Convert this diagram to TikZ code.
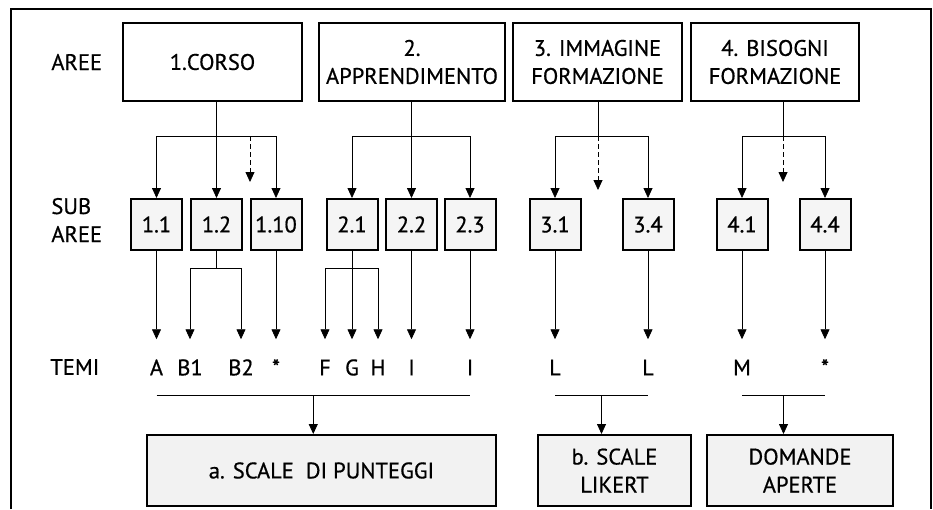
\documentclass[tikz,border=0pt]{standalone}
\usepackage{fontspec}
\setmainfont[FakeBold=0.6]{PT Sans}
\usetikzlibrary{arrows.meta,calc}
\begin{document}
\begin{tikzpicture}[>={Triangle[width=9pt,length=10pt]},x=1pt,y=-1pt,line width=0.8pt,
	every node/.style={font=\fontsize{22.5}{28}\selectfont},
	area/.style={draw,line width=2pt,minimum width=#1,minimum height=78pt,align=center,inner sep=0pt},
	sub/.style={draw,line width=2pt,fill=black!4,minimum width=51pt,minimum height=51pt,inner sep=0pt},
	tema/.style={inner xsep=0pt,inner ysep=20pt,text height=15.7pt,text depth=0pt},
	esito/.style={draw,line width=2pt,fill=black!5,minimum width=#1,minimum height=71pt,align=center,inner sep=0pt},
	lab/.style={anchor=west,align=left,inner sep=0pt},
	tratt/.style={dash pattern=on 5pt off 3pt}]
	\useasboundingbox (0,0) rectangle (933,509);
	% cornice
	\draw[line width=1.2pt] (11,509) -- (11,9) -- (931,9) -- (931,509);
	\node[lab] (lAree) at (51,62) {AREE};
	\node[lab] (lSub) at (51,220) {SUB\\AREE};
	\node[lab] (lTemi) at (50,367) {TEMI};
	% aree
	\node[area=179pt] (c1) at (212.5,62) {1.CORSO};
	\node[area=186pt] (c2) at (412,62) {2.\\APPRENDIMENTO};
	\node[area=169pt] (c3) at (597.5,62) {3. IMMAGINE\\FORMAZIONE};
	\node[area=168pt] (c4) at (775,62) {4. BISOGNI\\FORMAZIONE};
	% sub aree
	\node[sub] (s11) at (156.5,224.5) {1.1};
	\node[sub] (s12) at (216.5,224.5) {1.2};
	\node[sub] (s110) at (276,224.5) {1.10};
	\node[sub] (s21) at (352,224.5) {2.1};
	\node[sub] (s22) at (411.5,224.5) {2.2};
	\node[sub] (s23) at (470,224.5) {2.3};
	\node[sub] (s31) at (555,224.5) {3.1};
	\node[sub] (s34) at (648,224.5) {3.4};
	\node[sub] (s41) at (742,224.5) {4.1};
	\node[sub] (s44) at (825,224.5) {4.4};
	% temi
	\node[tema] (tA) at (156.5,367.5) {A};
	\node[tema] (tB1) at (190,367.5) {B1};
	\node[tema] (tB2) at (241,367.5) {B2};
	\node[tema] (tS1) at (276,367.5) {*};
	\node[tema] (tF) at (325,367.5) {F};
	\node[tema] (tG) at (352,367.5) {G};
	\node[tema] (tH) at (378,367.5) {H};
	\node[tema] (tI1) at (411.5,367.5) {I};
	\node[tema] (tI2) at (470,367.5) {I};
	\node[tema] (tL1) at (555,367.5) {L};
	\node[tema] (tL2) at (648,367.5) {L};
	\node[tema] (tM) at (742,367.5) {M};
	\node[tema] (tS2) at (825,367.5) {*};
	% esiti
	\node[esito=349pt] (ba) at (321.5,470.5) {a. SCALE~ DI PUNTEGGI};
	\node[esito=153pt] (bb) at (614.5,470.5) {b. SCALE\\LIKERT};
	\node[esito=186pt] (bc) at (800,470.5) {DOMANDE\\APERTE};
	% livelli delle forcelle
	\coordinate (liv) at (0,136);
	\coordinate (liv2) at (0,268);
	\coordinate (p1) at (250,182);
	\coordinate (p3) at (598,190);
	\coordinate (p4) at (783,182);
	% area 1
	\draw[->] (c1.south -| s12) -- (s12.north);
	\draw (s11 |- liv) -- (s110 |- liv);
	\draw[->] (s11 |- liv) -- (s11.north);
	\draw[->] (s110 |- liv) -- (s110.north);
	\draw[->,tratt] (p1 |- liv) -- (p1);
	% area 2
	\draw[->] (c2.south -| s22) -- (s22.north);
	\draw (s21 |- liv) -- (s23 |- liv);
	\draw[->] (s21 |- liv) -- (s21.north);
	\draw[->] (s23 |- liv) -- (s23.north);
	% area 3
	\draw (c3.south -| p3) -- (p3 |- liv);
	\draw[->,tratt] (p3 |- liv) -- (p3);
	\draw (s31 |- liv) -- (s34 |- liv);
	\draw[->] (s31 |- liv) -- (s31.north);
	\draw[->] (s34 |- liv) -- (s34.north);
	% area 4
	\draw (c4.south -| p4) -- (p4 |- liv);
	\draw[->,tratt] (p4 |- liv) -- (p4);
	\draw (s41 |- liv) -- (s44 |- liv);
	\draw[->] (s41 |- liv) -- (s41.north);
	\draw[->] (s44 |- liv) -- (s44.north);
	% sub aree -> temi
	\draw[->] (s11) -- (tA);
	\draw (s12.south) -- (s12 |- liv2);
	\draw (tB1 |- liv2) -- (tB2 |- liv2);
	\draw[->] (tB1 |- liv2) -- (tB1);
	\draw[->] (tB2 |- liv2) -- (tB2);
	\draw[->] (s110) -- (tS1);
	\draw[->] (s21) -- (tG);
	\draw (tF |- liv2) -- (tH |- liv2);
	\draw[->] (tF |- liv2) -- (tF);
	\draw[->] (tH |- liv2) -- (tH);
	\draw[->] (s22) -- (tI1);
	\draw[->] (s23) -- (tI2);
	\draw[->] (s31) -- (tL1);
	\draw[->] (s34) -- (tL2);
	\draw[->] (s41) -- (tM);
	\draw[->] (s44) -- (tS2);
	% temi -> esiti
	\coordinate (m1) at ($(tA.south)!.5!(tI2.south)$);
	\coordinate (m2) at ($(tL1.south)!.5!(tL2.south)$);
	\coordinate (m3) at ($(tM.south)!.5!(tS2.south)$);
	\draw (tA.south) -- (tI2.south);
	\draw[->] (m1) -- (m1 |- ba.north);
	\draw (tL1.south) -- (tL2.south);
	\draw[->] (m2) -- (m2 |- bb.north);
	\draw (tM.south) -- (tS2.south);
	\draw[->] (m3) -- (m3 |- bc.north);
\end{tikzpicture}
\end{document}
